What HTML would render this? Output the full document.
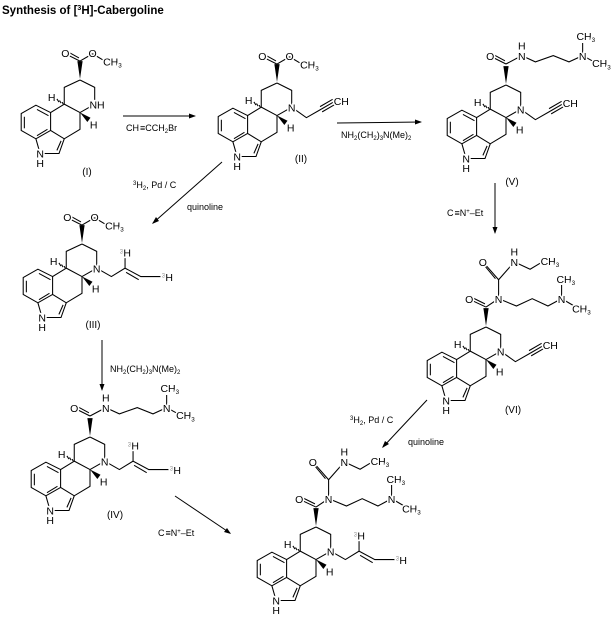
<!DOCTYPE html>
<html><head><meta charset="utf-8"><style>
html,body{margin:0;padding:0;background:#fff;width:613px;height:617px;overflow:hidden}
svg{display:block}
text{font-family:"Liberation Sans",sans-serif;fill:#000}
.a{font-size:10px;text-anchor:middle;stroke:#fff;stroke-width:3;paint-order:stroke}
.s{font-size:10px;text-anchor:start;stroke:#fff;stroke-width:3;paint-order:stroke}
.r{font-size:9px}
.g{fill:#888;font-size:6px}
line,polyline{stroke:#000;stroke-width:1;fill:none}
</style></head><body>
<svg width="613" height="617" viewBox="0 0 613 617" xmlns="http://www.w3.org/2000/svg">
<defs>
<g id="core">
<polyline points="0,0 14,7 14,23 0,31 -15,23 -15,7 0,0"/>
<polyline points="0,31 0,47 -15,56 -28,48 -28,31 -15,23"/>
<polyline points="-28,31 -42,24 -56,32 -56,48 -42,56 -28,48"/>
<line x1="-30" y1="34" x2="-41" y2="28"/>
<line x1="-53" y1="35" x2="-53" y2="46"/>
<line x1="-41" y1="53" x2="-31" y2="47"/>
<polyline points="-15,56 -20,70 -38,70 -42,56"/>
<line x1="-18" y1="58" x2="-22" y2="67"/>
<polygon points="0,-1 -2.5,-18 2.5,-18" fill="#000"/>
<polygon points="0,31 10,36 7,40" fill="#000"/>
<line x1="-17" y1="21" x2="-16" y2="23"/>
<line x1="-19.5" y1="19.5" x2="-18" y2="22"/>
<line x1="-22" y1="18" x2="-20" y2="21"/>
</g>
<g id="ester">
<line x1="0" y1="-18" x2="-12" y2="-24"/>
<line x1="-1" y1="-21" x2="-10" y2="-26"/>
<line x1="0" y1="-18" x2="12" y2="-25"/>
<line x1="12" y1="-25" x2="22" y2="-19"/>
</g>
<g id="amide">
<line x1="0" y1="-20" x2="-14" y2="-27"/>
<line x1="-1" y1="-23" x2="-12" y2="-29"/>
<polyline points="0,-20 15,-28 28,-22 45,-28 60,-22 73,-28 84,-22"/>
<line x1="73" y1="-28" x2="73" y2="-40"/>
</g>
<g id="urea">
<line x1="0" y1="-19" x2="-15" y2="-26"/>
<line x1="-1" y1="-22" x2="-13" y2="-28"/>
<polyline points="0,-19 12,-27 29,-20 44,-27 59,-20 72,-27 84,-20"/>
<line x1="72" y1="-27" x2="72" y2="-40"/>
<polyline points="12,-27 12,-45 27,-62 42,-55 52,-61"/>
<line x1="12" y1="-45" x2="-2" y2="-61"/>
<line x1="9" y1="-46" x2="-1" y2="-58"/>
</g>
<g id="prop">
<polyline points="14,23 28,33 42,25"/>
<line x1="42" y1="25" x2="54" y2="18"/>
<line x1="41" y1="22.5" x2="53" y2="15.5"/>
<line x1="43" y1="27.5" x2="55" y2="20.5"/>
</g>
<g id="allyl">
<polyline points="14,23 28,31 41,23 56,31 76,31"/>
<line x1="42" y1="27" x2="54" y2="34"/>
<line x1="41" y1="23" x2="41" y2="12"/>
</g>
</defs>

<text x="2" y="14" style="font-size:11.5px;font-weight:bold">Synthesis of [<tspan font-size="7" dy="-4">3</tspan><tspan dy="4">H]-Cabergoline</tspan></text>

<!-- I -->
<g transform="translate(80,80) scale(1.05)">
<use href="#core"/><use href="#ester"/>
<text class="s" x="9" y="27">NH</text>
<text class="a" x="-27" y="20">H</text><text class="a" x="13" y="46">H</text>
<text class="a" x="-38" y="74">N</text><text class="a" x="-38" y="83">H</text>
<text class="a" x="-14" y="-22">O</text><text class="a" x="12" y="-22">O</text>
<text class="s" x="22" y="-14">CH<tspan font-size="6" dy="2">3</tspan></text>
</g>
<text class="a" x="87" y="175">(I)</text>

<!-- II -->
<g transform="translate(277,83) scale(1.05)">
<use href="#core"/><use href="#ester"/><use href="#prop"/>
<text class="a" x="14" y="27">N</text>
<text class="a" x="-27" y="20">H</text><text class="a" x="13" y="46">H</text>
<text class="a" x="-38" y="74">N</text><text class="a" x="-38" y="83">H</text>
<text class="a" x="-14" y="-22">O</text><text class="a" x="12" y="-22">O</text>
<text class="s" x="22" y="-14">CH<tspan font-size="6" dy="2">3</tspan></text>
<text class="s" x="54" y="21">CH</text>
</g>
<text class="a" x="301" y="162">(II)</text>

<!-- V -->
<g transform="translate(506,85) scale(1.05)">
<use href="#core"/><use href="#amide"/><use href="#prop"/>
<text class="a" x="14" y="27">N</text>
<text class="a" x="-27" y="20">H</text><text class="a" x="13" y="46">H</text>
<text class="a" x="-38" y="74">N</text><text class="a" x="-38" y="83">H</text>
<text class="a" x="-15" y="-24">O</text>
<text class="a" x="15" y="-24">N</text><text class="a" x="15" y="-34">H</text>
<text class="a" x="73" y="-24">N</text>
<text class="a" x="76" y="-43">CH<tspan font-size="6" dy="2">3</tspan></text>
<text class="s" x="82" y="-17">CH<tspan font-size="6" dy="2">3</tspan></text>
<text class="s" x="54" y="21">CH</text>
</g>
<text class="a" x="512" y="185">(V)</text>

<!-- III -->
<g transform="translate(82,244) scale(1.05)">
<use href="#core"/><use href="#ester"/><use href="#allyl"/>
<text class="a" x="14" y="27">N</text>
<text class="a" x="-27" y="20">H</text><text class="a" x="13" y="46">H</text>
<text class="a" x="-38" y="74">N</text><text class="a" x="-38" y="83">H</text>
<text class="a" x="-14" y="-22">O</text><text class="a" x="12" y="-22">O</text>
<text class="s" x="22" y="-14">CH<tspan font-size="6" dy="2">3</tspan></text>
<text class="s" x="36" y="12"><tspan class="g" dy="-3">3</tspan><tspan dy="3">H</tspan></text>
<text class="s" x="76" y="35"><tspan class="g" dy="-3">3</tspan><tspan dy="3">H</tspan></text>
</g>
<text class="a" x="93" y="328">(III)</text>

<!-- IV -->
<g transform="translate(90,437) scale(1.05)">
<use href="#core"/><use href="#amide"/><use href="#allyl"/>
<text class="a" x="14" y="27">N</text>
<text class="a" x="-27" y="20">H</text><text class="a" x="13" y="46">H</text>
<text class="a" x="-38" y="74">N</text><text class="a" x="-38" y="83">H</text>
<text class="a" x="-15" y="-24">O</text>
<text class="a" x="15" y="-24">N</text><text class="a" x="15" y="-34">H</text>
<text class="a" x="73" y="-24">N</text>
<text class="a" x="76" y="-43">CH<tspan font-size="6" dy="2">3</tspan></text>
<text class="s" x="82" y="-17">CH<tspan font-size="6" dy="2">3</tspan></text>
<text class="s" x="36" y="12"><tspan class="g" dy="-3">3</tspan><tspan dy="3">H</tspan></text>
<text class="s" x="76" y="35"><tspan class="g" dy="-3">3</tspan><tspan dy="3">H</tspan></text>
</g>
<text class="a" x="115" y="518">(IV)</text>

<!-- VI -->
<g transform="translate(486,327) scale(1.05)">
<use href="#core"/><use href="#urea"/><use href="#prop"/>
<text class="a" x="14" y="27">N</text>
<text class="a" x="-27" y="20">H</text><text class="a" x="13" y="46">H</text>
<text class="a" x="-38" y="74">N</text><text class="a" x="-38" y="83">H</text>
<text class="a" x="-16" y="-23">O</text>
<text class="a" x="12" y="-23">N</text>
<text class="a" x="-3" y="-58">O</text>
<text class="a" x="27" y="-58">N</text><text class="a" x="27" y="-68">H</text>
<text class="s" x="52" y="-59">CH<tspan font-size="6" dy="2">3</tspan></text>
<text class="a" x="72" y="-23">N</text>
<text class="a" x="76" y="-42">CH<tspan font-size="6" dy="2">3</tspan></text>
<text class="s" x="82" y="-14">CH<tspan font-size="6" dy="2">3</tspan></text>
<text class="s" x="54" y="21">CH</text>
</g>
<text class="a" x="513" y="413">(VI)</text>

<!-- final -->
<g transform="translate(316,527) scale(1.05)">
<use href="#core"/><use href="#urea"/><use href="#allyl"/>
<text class="a" x="14" y="27">N</text>
<text class="a" x="-27" y="20">H</text><text class="a" x="13" y="46">H</text>
<text class="a" x="-38" y="74">N</text><text class="a" x="-38" y="83">H</text>
<text class="a" x="-16" y="-23">O</text>
<text class="a" x="12" y="-23">N</text>
<text class="a" x="-3" y="-58">O</text>
<text class="a" x="27" y="-58">N</text><text class="a" x="27" y="-68">H</text>
<text class="s" x="52" y="-59">CH<tspan font-size="6" dy="2">3</tspan></text>
<text class="a" x="72" y="-23">N</text>
<text class="a" x="76" y="-42">CH<tspan font-size="6" dy="2">3</tspan></text>
<text class="s" x="82" y="-14">CH<tspan font-size="6" dy="2">3</tspan></text>
<text class="s" x="36" y="12"><tspan class="g" dy="-3">3</tspan><tspan dy="3">H</tspan></text>
<text class="s" x="76" y="35"><tspan class="g" dy="-3">3</tspan><tspan dy="3">H</tspan></text>
</g>

<!-- arrows -->
<line x1="123" y1="116" x2="195" y2="116"/><polygon points="196,116 189,113.5 189,118.5" fill="#000"/>
<text class="r" x="126" y="131">CH<tspan dx="1">&#x2261;</tspan>CCH<tspan font-size="6" dy="2">2</tspan><tspan dy="-2">Br</tspan></text>

<line x1="337" y1="123" x2="421" y2="122"/><polygon points="422,122 415,119.5 415,124.5" fill="#000"/>
<text class="r" x="341" y="138">NH<tspan font-size="6" dy="2">2</tspan><tspan dy="-2">(CH</tspan><tspan font-size="6" dy="2">2</tspan><tspan dy="-2">)</tspan><tspan font-size="6" dy="2">3</tspan><tspan dy="-2">N(Me)</tspan><tspan font-size="6" dy="2">2</tspan></text>

<line x1="222" y1="162" x2="153" y2="223"/><polygon points="152,224 156,217 159,221" fill="#000"/>
<text class="r" x="133" y="188"><tspan font-size="6" dy="-3">3</tspan><tspan dy="3">H</tspan><tspan font-size="6" dy="2">2</tspan><tspan dy="-2">, Pd / C</tspan></text>
<text class="r" x="187" y="210">quinoline</text>

<line x1="495" y1="183" x2="495" y2="233"/><polygon points="495,234 492.5,227 497.5,227" fill="#000"/>
<text class="r" x="447" y="216">C<tspan dx="1">&#x2261;</tspan>N<tspan font-size="6" dy="-3">+</tspan><tspan dy="3">&#x2013;Et</tspan></text>

<line x1="102" y1="340" x2="102" y2="390"/><polygon points="102,391 99.5,384 104.5,384" fill="#000"/>
<text class="r" x="110" y="372">NH<tspan font-size="6" dy="2">2</tspan><tspan dy="-2">(CH</tspan><tspan font-size="6" dy="2">2</tspan><tspan dy="-2">)</tspan><tspan font-size="6" dy="2">3</tspan><tspan dy="-2">N(Me)</tspan><tspan font-size="6" dy="2">2</tspan></text>

<line x1="175" y1="496" x2="230" y2="533"/><polygon points="231,534 224,532 227,528" fill="#000"/>
<text class="r" x="158" y="536">C<tspan dx="1">&#x2261;</tspan>N<tspan font-size="6" dy="-3">+</tspan><tspan dy="3">&#x2013;Et</tspan></text>

<line x1="427" y1="400" x2="383" y2="447"/><polygon points="382,448 385,441 389,444" fill="#000"/>
<text class="r" x="350" y="423"><tspan font-size="6" dy="-3">3</tspan><tspan dy="3">H</tspan><tspan font-size="6" dy="2">2</tspan><tspan dy="-2">, Pd / C</tspan></text>
<text class="r" x="408" y="445">quinoline</text>
</svg>
</body></html>
